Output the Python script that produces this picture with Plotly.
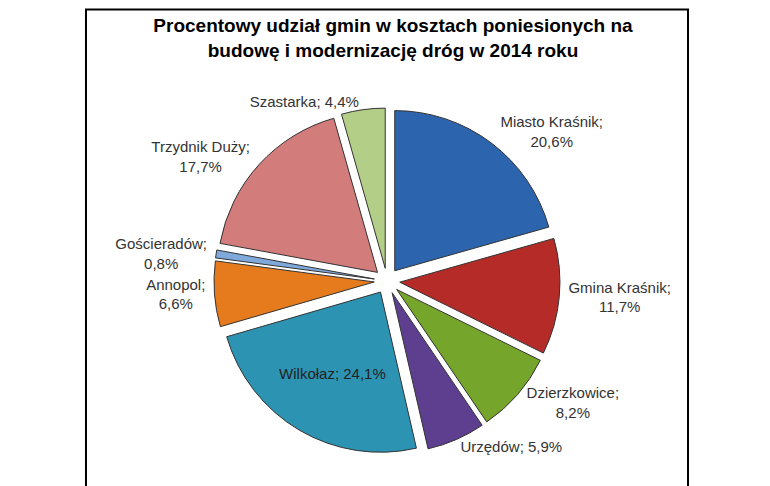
import plotly.graph_objects as go

names = ["Miasto Kraśnik", "Gmina Kraśnik", "Dzierzkowice", "Urzędów", "Wilkołaz",
         "Annopol", "Gościeradów", "Trzydnik Duży", "Szastarka"]
values = [20.6, 11.7, 8.2, 5.9, 24.1, 6.6, 0.8, 17.7, 4.4]
colors = ["#2C65AE", "#B52B27", "#76A52C", "#5E3F8F", "#2C93B3",
          "#E57B1C", "#7FA8DB", "#D27C7B", "#B3CF87"]

def fmt(v):
    return f"{v:.1f}".replace(".", ",") + "%"

texts = []
for n, v in zip(names, values):
    if n in ("Wilkołaz", "Szastarka", "Urzędów"):
        texts.append(f"{n}; {fmt(v)}")
    else:
        texts.append(f"{n};<br>{fmt(v)}")
positions = ["inside" if n == "Wilkołaz" else "outside" for n in names]

W, H = 770, 486
ml, mr, mt, mb = 120, 120, 100, 40
pw, ph = W - ml - mr, H - mt - mb

fig = go.Figure(go.Pie(
    labels=names, values=values, sort=False, direction="clockwise", rotation=0,
    text=texts, textinfo="text", textposition=positions,
    insidetextorientation="horizontal",
    marker=dict(colors=colors, line=dict(color="#333333", width=1)),
    pull=[0.08] * len(values),
    textfont=dict(family="Liberation Sans, Arial", size=15, color="#333333"),
    outsidetextfont=dict(family="Liberation Sans, Arial", size=15, color="#333333"),
    insidetextfont=dict(family="Liberation Sans, Arial", size=15, color="#222222"),
    showlegend=False, hoverinfo="label+percent",
))
fig.update_layout(
    width=W, height=H, paper_bgcolor="white",
    margin=dict(l=ml, r=mr, t=mt, b=mb),
    title=dict(text="<b>Procentowy udział gmin w kosztach poniesionych na<br>budowę i modernizację dróg w 2014 roku</b>",
               x=0.5, y=0.95, xanchor="center",
               font=dict(family="Liberation Sans, Arial", size=19, color="black")),
    shapes=[dict(type="rect", xref="paper", yref="paper",
                 x0=-(ml - 1.5) / pw, x1=1 + (mr - 1.5) / pw,
                 y0=-(mb - 1.5) / ph, y1=1 + (mt - 1.5) / ph,
                 line=dict(color="black", width=2))],
)
fig.write_html("out.html")
